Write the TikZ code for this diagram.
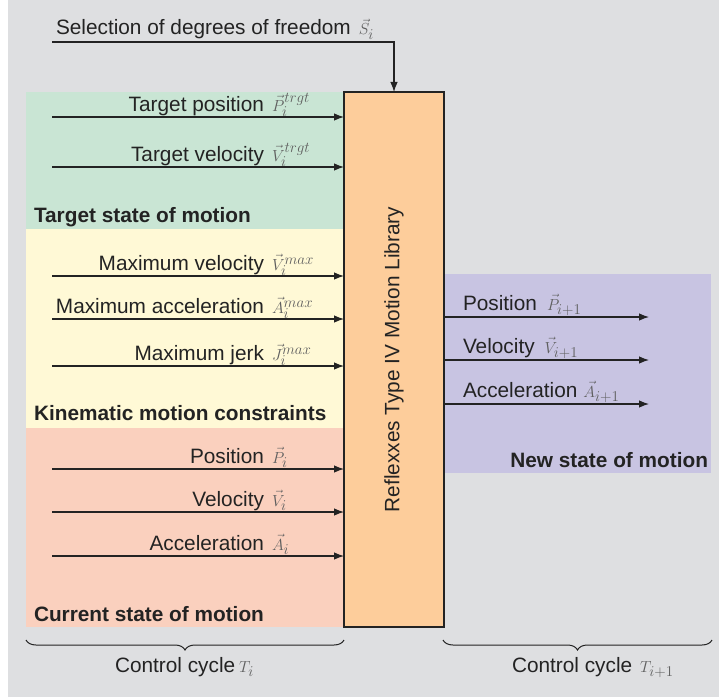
\RequirePackage{fix-cm}
\documentclass[tikz,border=0pt]{standalone}
\usepackage{fontspec}
\setmainfont{Liberation Sans}
\usetikzlibrary{arrows.meta,positioning,decorations.pathreplacing}
\DeclareMathSizes{16}{16}{15}{11}
\definecolor{bggray}{RGB}{222,223,225}
\definecolor{tgtgreen}{RGB}{201,229,212}
\definecolor{limyellow}{RGB}{255,249,214}
\definecolor{curred}{RGB}{250,208,190}
\definecolor{newpurple}{RGB}{200,196,226}
\definecolor{liborange}{RGB}{253,205,155}
\definecolor{ink}{RGB}{35,35,35}
\definecolor{mathgray}{RGB}{95,95,95}
\newcommand{\mvar}[1]{{\fontsize{16}{18}\selectfont\color{mathgray}$#1$}}

\begin{document}
\begin{tikzpicture}[x=1pt,y=-1pt, every node/.style={font=\fontsize{20.8}{25}\selectfont,text=ink,inner sep=0pt,outer sep=0pt}, zone/.style={draw=none,inner sep=0pt}, libbox/.style={draw=ink,line width=1.2pt,fill=liborange,minimum width=100,minimum height=535}, title/.style={font=\fontsize{20.8}{25}\selectfont\bfseries,anchor=base west}, flow/.style={draw=ink,line width=1.1pt,-{Latex[length=10pt,width=7.5pt]}}, cycbrace/.style={draw=ink,line width=1pt,decorate,decoration={brace,mirror,amplitude=10pt}}]
\useasboundingbox (0,0) rectangle (719,698);
\fill[white] (0,0) rectangle (719,698);
\fill[bggray] (8,0) rectangle (719,696.5);
% coloured zones
\node[zone,fill=tgtgreen,minimum width=318,minimum height=137] (tgtzone) at (185,160.5) {};
\node[zone,fill=limyellow,minimum width=318,minimum height=199] (limzone) at (185,328.5) {};
\node[zone,fill=curred,minimum width=318,minimum height=199] (curzone) at (185,527.5) {};
\node[zone,fill=newpurple,minimum width=268,minimum height=199] (newzone) at (577,373.5) {};
\node[libbox] (lib) at (394,359.5) {};
\node[rotate=90] (libtext) at (lib.center) {Reflexxes Type IV Motion Library};
% zone titles
\node[title] (tgttitle) at (34,222.5) {Target state of motion};
\node[title] (limtitle) at (34,420) {Kinematic motion constraints};
\node[title] (curtitle) at (34,621) {Current state of motion};
\node[title,anchor=base east] (newtitle) at (708,467) {New state of motion};
% selection input
\coordinate (sel) at (52,42);
\node[anchor=base west] (seltext) at (56,35) {Selection of degrees of freedom\hspace{8pt}\mvar{\vec{S}_i}};
\draw[flow] (sel) -| (lib.north);
% inputs
\foreach \n/\y/\t in {tp/117/{Target position\rlap{\hspace{8pt}\mvar{\vec{P}_i^{trgt}}}}, tv/167/{Target velocity\rlap{\hspace{8pt}\mvar{\vec{V}_i^{trgt}}}}, mv/276/{Maximum velocity\rlap{\hspace{8pt}\mvar{\vec{V}_i^{max}}}}, ma/319/{Maximum acceleration\rlap{\hspace{8pt}\mvar{\vec{A}_i^{max}}}}, mj/366/{Maximum jerk\rlap{\hspace{8pt}\mvar{\vec{J}_i^{max}}}}, cp/469/{Position\rlap{\hspace{8pt}\mvar{\vec{P}_i}}}, cv/512/{Velocity\rlap{\hspace{8pt}\mvar{\vec{V}_i}}}, ca/556/{Acceleration\rlap{\hspace{8pt}\mvar{\vec{A}_i}}}}{
  \coordinate (\n) at (52,\y);
  \node[anchor=base east] (\n txt) at (264,\y-6) {\t};
  \draw[flow] (\n) -- (\n -| lib.west);
}
% outputs
\foreach \n/\y/\t in {np/317/{Position\hspace{10pt}\mvar{\vec{P}_{i+1}}}, nv/360/{Velocity\hspace{10pt}\mvar{\vec{V}_{i+1}}}, na/404/{Acceleration\hspace{6pt}\mvar{\vec{A}_{i+1}}}}{
  \coordinate (\n) at (649,\y);
  \node[anchor=base west] (\n txt) at (463,\y-7) {\t};
  \draw[flow] (\n -| lib.east) -- (\n);
}
% control cycles
\coordinate (cycAa) at (26,640);
\coordinate (cycAb) at (344,640);
\coordinate (cycBa) at (443,640);
\coordinate (cycBb) at (712,640);
\draw[cycbrace] (cycAa) -- (cycAb);
\draw[cycbrace] (cycBa) -- (cycBb);
\node[anchor=base west] (cycA) at (115,672) {Control cycle\hspace{4pt}\mvar{T_i}};
\node[anchor=base west] (cycB) at (512,672) {Control cycle\hspace{8pt}\mvar{T_{i+1}}};
\end{tikzpicture}
\end{document}
